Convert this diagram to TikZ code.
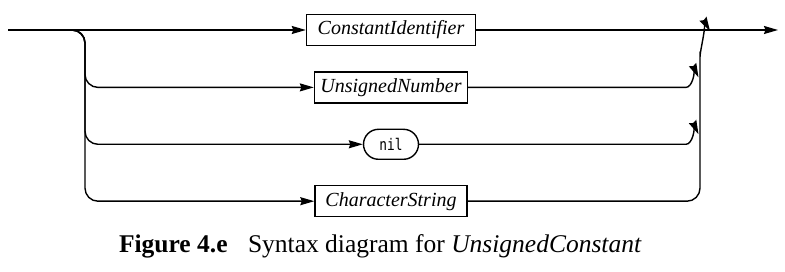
\documentclass[tikz,border=0pt]{standalone}
\usepackage{fontspec}
\setmainfont{Liberation Serif}
\newfontfamily\nilfont[FakeStretch=0.8]{DejaVu Sans Mono}
\usetikzlibrary{positioning,arrows.meta}

\begin{document}
\begin{tikzpicture}[
	x=1pt, y=-1pt,
	line width=1.4pt,
	>={Stealth[length=14pt,width=8pt,inset=1.5pt]},
	every node/.style={font=\fontsize{20}{24}\selectfont\itshape},
	nonterm/.style={draw, minimum height=31pt, inner sep=0pt},
	term/.style={draw, rounded corners=15pt, minimum height=30pt, minimum width=55pt, inner sep=0pt, font=\fontsize{16}{18}\selectfont\nilfont},
	branch/.style={rounded corners=13pt},
	node distance=25pt
]
\useasboundingbox (0,0) rectangle (785,272);

\node[nonterm, minimum width=169pt] (ci) at (391,30) {ConstantIdentifier};
\node[nonterm, minimum width=153pt, below=of ci] (un) {UnsignedNumber};
\node[term, below=of un] (nil) {nil};
\node[nonterm, minimum width=152pt, below=of nil] (cs) {CharacterString};

\coordinate (in) at (8,30);
\coordinate (fork) at (72,30);
\coordinate (lv) at (85,30);
\coordinate (rv) at (700,30);
\coordinate (top) at (700,44);
\coordinate (join) at (710,31);
\coordinate (out) at (778,30);

\draw[->] (in) -- (ci);
\draw[->] (ci) -- (out);
\foreach \n in {un,nil,cs}
	\draw[->, branch] (fork) -| (lv |- \n) -- (\n);
\foreach \n in {un,nil}
	\draw[->] (\n) -- ([xshift=-14pt]rv |- \n) to[out=0, in=115] ([xshift=-1.5pt, yshift=10pt]rv |- \n);
\draw[->, branch] (cs) -| (top) to[out=-90, in=120] (join);

\node[anchor=base west, font=\fontsize{25.5}{30}\selectfont] (caption) at (115,253)
	{\textbf{Figure 4.e}\hspace{0.8em}Syntax diagram for \textit{UnsignedConstant}};
\end{tikzpicture}
\end{document}
